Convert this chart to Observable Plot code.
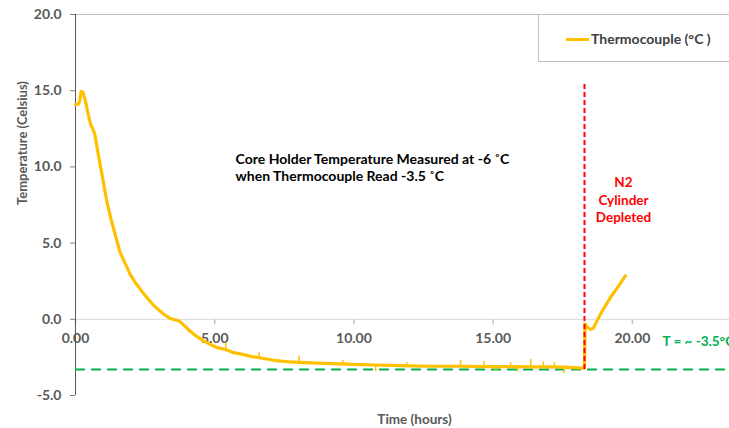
<!DOCTYPE html>
<html><head><meta charset="utf-8">
<script src="https://cdn.jsdelivr.net/npm/d3@7"></script>
<script src="https://cdn.jsdelivr.net/npm/@observablehq/plot@0.6"></script>
<style>
html,body{margin:0;padding:0;background:#fff;width:729px;height:428px;overflow:hidden;}
#wrap{position:relative;width:729px;height:428px;overflow:hidden;}
#chart svg{display:block;}
#legend{position:absolute;left:538px;top:14px;width:230px;height:48px;border:1px solid #bfbfbf;box-sizing:border-box;background:#fff;font-family:Lato,sans-serif;}
#legend .sw{position:absolute;left:27px;top:23px;width:23px;height:3px;background:#FFC000;}
#legend .lb{position:absolute;left:52px;top:15px;font-size:14px;font-weight:bold;color:#404040;line-height:18px;white-space:nowrap;}
</style>
</head><body>
<div id="wrap"><div id="chart"></div>
<div id="legend"><div class="sw"></div><div class="lb">Thermocouple (°C )</div></div>
</div>
<script>
// Thermocouple readings (hours, °C)
const timeHours = [0, 0.1, 0.15, 0.2, 0.27, 0.36, 0.45, 0.54, 0.62, 0.7, 0.8, 0.9, 1.0, 1.14, 1.3, 1.45, 1.6, 1.8, 1.95, 2.15, 2.4, 2.6, 2.81, 3.0, 3.2, 3.4, 3.6, 3.75, 3.9, 4.1, 4.3, 4.6, 4.85, 5.09, 5.39, 5.68, 6.0, 6.4, 6.6, 7.12, 7.72, 8.02, 9.16, 10.0, 10.77, 12.0, 12.75, 13.82, 14.66, 15.62, 16.34, 17.0, 17.53, 18.23, 18.28, 18.3, 18.4, 18.5, 18.6, 18.85, 19.2, 19.5, 19.75];
const tempC = [14.1, 14.1, 14.3, 14.95, 14.9, 14.3, 13.5, 12.8, 12.5, 12.1, 11.0, 10.0, 9.0, 7.6, 6.4, 5.4, 4.4, 3.6, 3.0, 2.4, 1.8, 1.35, 0.9, 0.6, 0.3, 0.05, -0.05, -0.15, -0.4, -0.75, -1.05, -1.42, -1.65, -1.86, -1.98, -2.19, -2.3, -2.47, -2.52, -2.69, -2.8, -2.83, -2.91, -2.96, -3.0, -3.05, -3.08, -3.08, -3.1, -3.1, -3.12, -3.12, -3.14, -3.2, -3.2, -0.3, -0.55, -0.66, -0.58, 0.33, 1.4, 2.18, 2.85];

// Short noise spikes on the plateau (hours, baseline °C, spike tip °C)
const spikeTime = [5.4, 6.6, 8.03, 9.6, 10.78, 11.9, 13.83, 14.67, 15.1, 15.63, 15.87, 16.35, 16.8, 17.2, 17.54];
const spikeBase = [-1.98, -2.52, -2.83, -2.93, -3.0, -3.05, -3.08, -3.1, -3.1, -3.1, -3.1, -3.12, -3.12, -3.13, -3.14];
const spikeTip = [-1.55, -2.2, -2.4, -2.7, -3.45, -2.85, -2.7, -2.75, -3.4, -2.85, -3.45, -2.65, -2.8, -2.85, -3.55];

const xTicks = [0, 5, 10, 15, 20];
const yTicks = [-5, 0, 5, 10, 15, 20];
const xDomain = [0, 24.35];
const yDomain = [-5, 20];

const baselineTemp = -3.3;          // green dashed reference
const depletedTime = 18.28;         // red dashed marker
const depletedTop = 15.45;

const noteText = ["Core Holder Temperature Measured at -6 ˚C\nwhen Thermocouple Read -3.5 ˚C"];
const noteX = [5.75];
const noteY = [10.0];
const depletedText = ["N2\nCylinder\nDepleted"];
const depletedTextX = [19.68];
const depletedTextY = [7.9];
const baselineText = ["T = ~ -3.5°C"];
const baselineTextX = [21.08];
const baselineTextY = [-1.5];

const series = timeHours.map((t, i) => ({t, v: tempC[i]}));
const spikes = spikeTime.map((t, i) => ({t, b: spikeBase[i], s: spikeTip[i]}));
const tickDown = {draw(ctx) { ctx.moveTo(0, 0); ctx.lineTo(0, 5); }};

const chart = Plot.plot({
  width: 753,
  height: 428,
  marginLeft: 75,
  marginRight: 0,
  marginTop: 14,
  marginBottom: 33,
  style: {fontFamily: "Lato, sans-serif", maxWidth: "none", overflow: "visible", background: "#fff"},
  x: {domain: xDomain, axis: null},
  y: {domain: yDomain, axis: null},
  marks: [
    Plot.ruleY([20], {stroke: "#bfbfbf"}),
    Plot.ruleY([0], {stroke: "#d9d9d9"}),
    Plot.dot(xTicks, {x: d => d, y: 0, symbol: tickDown, r: 5, stroke: "#bfbfbf", fill: "none"}),
    Plot.text(xTicks, {x: d => d, y: 0, text: d => d.toFixed(2), dy: 19, fill: "#595959", fontWeight: "bold", fontSize: 14}),
    Plot.axisY({ticks: yTicks, tickFormat: d => d.toFixed(1), tickSize: 5, tickPadding: 9, stroke: "#808080", fill: "#595959", fontWeight: "bold", fontSize: 14, label: null}),
    Plot.ruleX([0], {stroke: "#595959", strokeWidth: 1}),
    Plot.text(["Temperature (Celsius)"], {frameAnchor: "left", rotate: -90, dx: -53, fill: "#595959", fontSize: 13, fontWeight: "bold"}),
    Plot.text(["Time (hours)"], {frameAnchor: "bottom", dy: 28, fill: "#595959", fontSize: 13.5, fontWeight: "bold"}),
    Plot.ruleY([baselineTemp], {stroke: "#00B050", strokeWidth: 2, strokeDasharray: "10,6"}),
    Plot.ruleX(spikes, {x: "t", y1: "b", y2: "s", stroke: "#FFC000", strokeWidth: 1.5}),
    Plot.line(series, {x: "t", y: "v", stroke: "#FFC000", strokeWidth: 3.2, strokeLinejoin: "round"}),
    Plot.ruleX([depletedTime], {y1: baselineTemp, y2: depletedTop, stroke: "#FF0000", strokeWidth: 2, strokeDasharray: "5,3"}),
    Plot.text(noteText, {x: noteX, y: noteY, textAnchor: "start", lineAnchor: "middle", lineHeight: 1.22, fill: "#000", fontSize: 14, fontWeight: "bold"}),
    Plot.text(depletedText, {x: depletedTextX, y: depletedTextY, textAnchor: "middle", lineAnchor: "middle", lineHeight: 1.3, fill: "#FF0000", fontSize: 13.5, fontWeight: "bold"}),
    Plot.text(baselineText, {x: baselineTextX, y: baselineTextY, textAnchor: "start", fill: "#00B050", fontSize: 13.5, fontWeight: "bold"})
  ]
});
document.getElementById("chart").appendChild(chart);
</script>
</body></html>
